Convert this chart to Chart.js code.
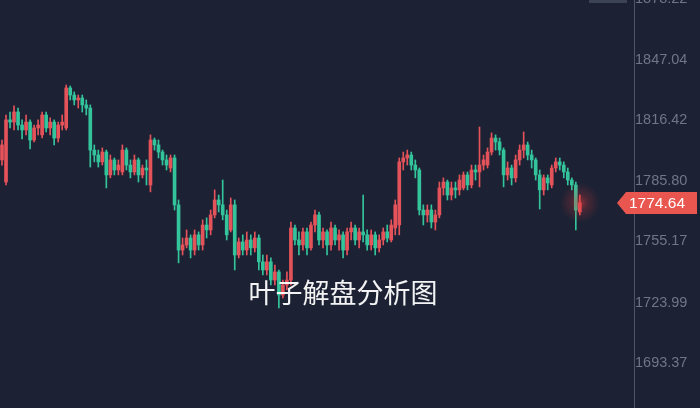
<!DOCTYPE html>
<html>
<head>
<meta charset="utf-8">
<script src="https://cdn.jsdelivr.net/npm/chart.js@4.4.1/dist/chart.umd.min.js"></script>
<style>
  html, body { margin: 0; padding: 0; background: #1c2234; }
  #wrap { width: 700px; height: 408px; position: relative; }
</style>
</head>
<body>
<div id="wrap"><canvas id="c"></canvas></div>
<script>
// candle values (price units)
const opens = [
  1796.4, 1785.2, 1816.7, 1815.6, 1820.7, 1814.1, 1811.6, 1815.6, 1806.5, 1812.6,
  1809.1, 1819.2, 1812.6, 1815.6, 1807.5, 1814.1, 1812.6, 1832.9, 1829.3, 1826.8,
  1827.8, 1824.3, 1822.7, 1801.4, 1798.9, 1795.4, 1800.4, 1788.8, 1796.4, 1791.3,
  1790.3, 1801.4, 1793.8, 1790.3, 1796.4, 1788.8, 1792.3, 1783.7, 1806.5, 1804.0,
  1800.4, 1796.4, 1792.3, 1797.4, 1773.6, 1750.7, 1753.3, 1756.8, 1750.7, 1758.4,
  1753.3, 1763.4, 1760.9, 1768.5, 1776.1, 1773.6, 1768.5, 1760.9, 1773.6, 1748.2,
  1754.8, 1750.7, 1755.8, 1751.8, 1756.8, 1744.7, 1740.6, 1744.7, 1735.5, 1739.6,
  1727.9, 1733.0, 1735.5, 1761.9, 1755.8, 1753.3, 1759.9, 1751.8, 1763.4, 1768.5,
  1755.8, 1759.9, 1753.3, 1761.9, 1755.8, 1758.4, 1750.7, 1759.9, 1761.9, 1755.8,
  1759.9, 1758.4, 1753.3, 1758.4, 1751.8, 1755.8, 1759.9, 1755.8, 1761.9, 1763.4,
  1795.4, 1797.4, 1798.9, 1793.8, 1791.3, 1771.0, 1768.5, 1771.0, 1764.9, 1768.5,
  1782.2, 1785.2, 1778.6, 1782.2, 1781.2, 1782.2, 1788.8, 1783.7, 1791.3, 1790.3,
  1793.8, 1793.8, 1800.4, 1807.5, 1805.5, 1801.4, 1788.8, 1792.3, 1787.3, 1796.4,
  1801.4, 1804.0, 1798.9, 1796.4, 1788.8, 1781.2, 1787.3, 1783.7, 1792.3, 1795.4,
  1793.8, 1790.3, 1786.2, 1783.7, 1770.0
];
const highs = [
  1806.5, 1819.2, 1820.7, 1823.8, 1822.7, 1816.7, 1819.2, 1816.7, 1814.1, 1816.7,
  1820.7, 1820.7, 1817.7, 1816.7, 1815.6, 1819.2, 1834.4, 1833.9, 1830.9, 1829.3,
  1829.3, 1826.8, 1824.3, 1804.0, 1801.4, 1802.5, 1801.4, 1798.9, 1797.4, 1796.4,
  1804.0, 1802.5, 1796.4, 1798.9, 1797.4, 1793.8, 1796.4, 1809.1, 1807.5, 1806.5,
  1801.4, 1798.9, 1798.9, 1798.9, 1776.1, 1756.8, 1760.9, 1758.4, 1760.9, 1759.9,
  1766.0, 1767.0, 1771.0, 1781.2, 1778.6, 1786.2, 1771.0, 1777.1, 1776.1, 1756.8,
  1758.4, 1759.9, 1758.4, 1759.9, 1758.4, 1748.2, 1748.2, 1746.7, 1743.1, 1740.6,
  1735.5, 1739.6, 1764.9, 1763.4, 1759.9, 1761.9, 1761.9, 1764.9, 1771.0, 1770.0,
  1761.9, 1760.9, 1764.9, 1763.4, 1760.9, 1759.9, 1761.9, 1764.9, 1763.4, 1761.9,
  1778.6, 1760.9, 1760.9, 1759.9, 1758.4, 1761.9, 1763.4, 1766.0, 1776.1, 1797.4,
  1800.4, 1801.4, 1800.4, 1796.4, 1792.3, 1773.6, 1773.6, 1773.6, 1771.0, 1785.2,
  1787.3, 1786.2, 1785.2, 1785.2, 1788.8, 1790.3, 1790.3, 1793.8, 1793.8, 1813.1,
  1798.9, 1802.5, 1810.1, 1809.1, 1807.5, 1802.5, 1795.4, 1793.8, 1798.9, 1804.0,
  1810.6, 1805.5, 1801.4, 1797.4, 1791.3, 1788.8, 1788.8, 1793.8, 1797.4, 1797.4,
  1795.4, 1792.3, 1787.3, 1785.2, 1778.6
];
const lows = [
  1793.8, 1783.7, 1812.6, 1811.6, 1811.6, 1807.0, 1809.1, 1802.0, 1805.5, 1809.1,
  1807.5, 1810.6, 1809.1, 1804.0, 1805.5, 1811.6, 1811.6, 1826.8, 1824.3, 1822.7,
  1820.7, 1819.2, 1792.8, 1795.4, 1792.8, 1793.8, 1782.2, 1787.3, 1788.8, 1788.8,
  1788.8, 1791.3, 1787.3, 1788.8, 1785.2, 1787.3, 1783.7, 1780.2, 1801.4, 1797.4,
  1793.8, 1791.3, 1790.3, 1771.0, 1744.2, 1748.2, 1751.8, 1746.7, 1748.2, 1750.7,
  1750.7, 1756.8, 1758.4, 1767.0, 1770.0, 1766.0, 1755.8, 1759.9, 1740.6, 1746.7,
  1748.2, 1748.2, 1748.2, 1749.7, 1740.6, 1738.1, 1738.1, 1733.0, 1733.0, 1721.3,
  1726.4, 1730.5, 1733.0, 1753.3, 1748.2, 1750.7, 1748.2, 1750.7, 1759.9, 1753.3,
  1751.8, 1748.2, 1750.7, 1753.3, 1750.7, 1746.7, 1748.2, 1755.8, 1753.3, 1751.8,
  1754.8, 1750.7, 1750.7, 1748.2, 1749.7, 1753.3, 1754.8, 1754.8, 1758.4, 1758.4,
  1791.3, 1793.8, 1791.3, 1787.3, 1768.5, 1763.4, 1764.9, 1761.9, 1760.9, 1767.0,
  1778.6, 1776.1, 1776.1, 1777.1, 1778.6, 1781.2, 1781.2, 1782.2, 1786.2, 1782.7,
  1791.3, 1792.3, 1798.9, 1801.4, 1798.9, 1782.7, 1786.2, 1783.7, 1785.2, 1793.8,
  1797.4, 1796.4, 1792.3, 1786.2, 1771.5, 1778.6, 1781.2, 1782.2, 1790.3, 1791.3,
  1787.3, 1783.7, 1781.2, 1760.9, 1768.5
];
const closes = [
  1804.0, 1816.7, 1815.6, 1820.7, 1814.1, 1811.6, 1815.6, 1806.5, 1812.6, 1814.1,
  1819.2, 1812.6, 1815.6, 1807.5, 1814.1, 1815.6, 1832.9, 1829.3, 1826.8, 1827.8,
  1824.3, 1822.7, 1801.4, 1798.9, 1795.4, 1800.4, 1788.8, 1796.4, 1791.3, 1793.8,
  1801.4, 1793.8, 1790.3, 1796.4, 1788.8, 1792.3, 1791.3, 1806.5, 1804.0, 1800.4,
  1796.4, 1793.8, 1797.4, 1773.6, 1750.7, 1753.3, 1756.8, 1750.7, 1758.4, 1753.3,
  1763.4, 1760.9, 1768.5, 1776.1, 1773.6, 1768.5, 1758.4, 1773.6, 1748.2, 1754.8,
  1750.7, 1755.8, 1751.8, 1756.8, 1744.7, 1740.6, 1744.7, 1735.5, 1739.6, 1727.9,
  1733.0, 1735.5, 1761.9, 1755.8, 1753.3, 1759.9, 1751.8, 1763.4, 1768.5, 1755.8,
  1759.9, 1753.3, 1761.9, 1755.8, 1758.4, 1750.7, 1759.9, 1761.9, 1755.8, 1759.9,
  1758.4, 1753.3, 1758.4, 1751.8, 1755.8, 1759.9, 1756.8, 1763.4, 1773.6, 1795.4,
  1797.4, 1798.9, 1793.8, 1791.3, 1771.0, 1768.5, 1771.0, 1764.9, 1768.5, 1782.2,
  1785.2, 1778.6, 1782.2, 1781.2, 1786.2, 1788.8, 1783.7, 1791.3, 1790.3, 1793.8,
  1796.4, 1800.4, 1807.5, 1805.5, 1801.4, 1788.8, 1792.3, 1787.3, 1796.4, 1801.4,
  1804.0, 1798.9, 1796.4, 1788.8, 1781.2, 1787.3, 1784.7, 1792.3, 1795.4, 1793.8,
  1790.3, 1786.2, 1783.7, 1771.0, 1774.64
];
const priceTicks = [1693.37, 1723.99, 1755.17, 1785.80, 1816.42, 1847.04, 1878.22];
const emptySlots = 13;   // blank space right of the last candle
const lastPrice = 1774.64;
const watermark = '叶子解盘分析图';

const UP = '#e4525a';
const DOWN = '#34c49c';

const labels = [];
for (let i = 0; i < closes.length + emptySlots; i++) labels.push(i);

const colorAt = (ctx) => {
  const i = ctx.dataIndex;
  return closes[i] >= opens[i] ? UP : DOWN;
};

const overlay = {
  id: 'overlay',
  afterDatasetsDraw(chart) {
    const { ctx, scales } = chart;
    const last = closes.length - 1;
    const cx = scales.x.getPixelForValue(last);
    const cy = scales.y.getPixelForValue(lastPrice);

    // glow on last candle
    const g = ctx.createRadialGradient(cx, cy, 0, cx, cy, 20);
    g.addColorStop(0, 'rgba(235,60,60,0.55)');
    g.addColorStop(0.4, 'rgba(235,60,60,0.22)');
    g.addColorStop(1, 'rgba(235,60,60,0)');
    ctx.save();
    ctx.fillStyle = g;
    ctx.beginPath();
    ctx.arc(cx, cy, 20, 0, Math.PI * 2);
    ctx.fill();

    // watermark
    ctx.fillStyle = 'rgba(255,255,255,0.95)';
    ctx.font = '27px "Noto Sans CJK SC", sans-serif';
    ctx.textAlign = 'center';
    ctx.textBaseline = 'middle';
    ctx.fillText(watermark, 343, 293);
    ctx.restore();
  },
  afterDraw(chart) {
    const { ctx, scales } = chart;
    const y = Math.round(scales.y.getPixelForValue(lastPrice));
    ctx.save();
    // faint box cut at the top
    ctx.fillStyle = 'rgba(120,128,145,0.35)';
    ctx.fillRect(589, 0, 38, 3);
    // price tag
    ctx.fillStyle = '#e8564f';
    ctx.beginPath();
    ctx.moveTo(617, y);
    ctx.lineTo(626, y - 11);
    ctx.lineTo(697, y - 11);
    ctx.lineTo(697, y + 11);
    ctx.lineTo(626, y + 11);
    ctx.closePath();
    ctx.fill();
    ctx.fillStyle = '#ffffff';
    ctx.font = '15.5px "Liberation Sans", Arial, sans-serif';
    ctx.textAlign = 'center';
    ctx.textBaseline = 'middle';
    ctx.fillText(lastPrice.toFixed(2), 657, y + 1);
    ctx.restore();
  }
};

new Chart(document.getElementById('c'), {
  type: 'bar',
  data: {
    labels,
    datasets: [
      {
        data: opens.map((o, i) => [o, closes[i]]),
        backgroundColor: colorAt,
        barThickness: 3,
        grouped: false,
        borderWidth: 0
      },
      {
        data: lows.map((l, i) => [l, highs[i]]),
        backgroundColor: colorAt,
        barThickness: 1,
        grouped: false,
        borderWidth: 0
      }
    ]
  },
  options: {
    responsive: true,
    maintainAspectRatio: false,
    animation: false,
    layout: { padding: 0 },
    plugins: { legend: { display: false }, tooltip: { enabled: false } },
    scales: {
      x: { type: 'category', display: false, offset: true },
      y: {
        position: 'right',
        min: 1670.6,
        max: 1877.5,
        afterBuildTicks: (scale) => { scale.ticks = priceTicks.map(v => ({ value: v })); },
        afterFit: (scale) => {
          scale.width = 66;
          scale.paddingTop = 0;
          scale.paddingBottom = 0;
        },
        grid: { display: false, drawTicks: false },
        border: { display: true, color: '#4e5668', width: 1 },
        ticks: {
          padding: 1,
          color: '#6e7687',
          font: { family: '"Liberation Sans", Arial, sans-serif', size: 14.5 },
          callback: (v) => Number(v).toFixed(2)
        }
      }
    }
  },
  plugins: [overlay]
});
</script>
</body>
</html>
